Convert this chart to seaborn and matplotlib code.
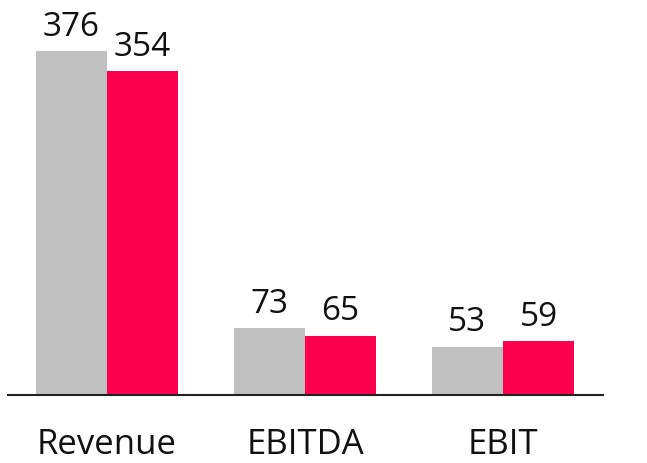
import matplotlib
matplotlib.use("Agg")
import matplotlib.pyplot as plt
import seaborn as sns
import pandas as pd

categories = ["Revenue", "EBITDA", "EBIT"]
periods = ["Prior", "Current"]
prior_values = [376, 73, 53]
current_values = [354, 65, 59]
colors = ["#C0C0C0", "#FF0050"]

df = pd.DataFrame({
    "metric": categories * 2,
    "period": [periods[0]] * 3 + [periods[1]] * 3,
    "value": prior_values + current_values,
})

sns.set_theme(style="white")
plt.rcParams["font.family"] = ["Open Sans", "DejaVu Sans"]

fig = plt.figure(figsize=(6.47, 4.64), dpi=100)
ax = fig.add_axes([8 / 647, 68 / 464, 595 / 647, 396 / 464])

sns.barplot(data=df, x="metric", y="value", hue="period", order=categories,
            hue_order=periods, palette=colors, width=0.72, gap=0,
            saturation=1, legend=False, linewidth=0, ax=ax)

for container in ax.containers:
    ax.bar_label(container, labels=[f"{v:.0f}" for v in container.datavalues],
                 padding=6, fontsize=24, color="#111111")

ax.set_xlim(-0.5, 2.505)
ax.set_ylim(0, 433)
ax.set_xlabel("")
ax.set_ylabel("")
ax.set_yticks([])
ax.tick_params(axis="x", length=0, pad=23, labelsize=25, labelcolor="#111111")
for side in ["top", "right", "left"]:
    ax.spines[side].set_visible(False)
ax.spines["bottom"].set_color("#222222")
ax.spines["bottom"].set_linewidth(1.5)

fig.savefig("out.png", dpi=100)
